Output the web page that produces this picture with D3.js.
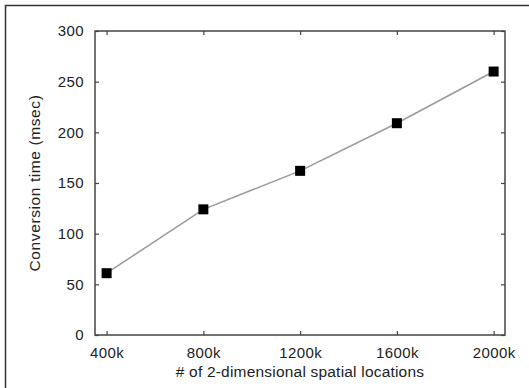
<!DOCTYPE html>
<html>
<head>
<meta charset="utf-8">
<script src="https://cdn.jsdelivr.net/npm/d3@7"></script>
<style>
  body { margin: 0; background: #fff; }
  text { font-family: "Liberation Sans", Arial, sans-serif; fill: #222; }
</style>
</head>
<body>
<div id="chart"></div>
<script>
// data
const locations = [400, 800, 1200, 1600, 2000]   // thousands of 2-D locations
const convTime = [61, 124, 162, 209, 260]        // msec
const yTicks = [0, 50, 100, 150, 200, 250, 300]

const W = 529, H = 388
const MARGIN = { TOP: 31, BOTTOM: 53, LEFT: 95, RIGHT: 24 }
const WIDTH = W - MARGIN.LEFT - MARGIN.RIGHT
const HEIGHT = H - MARGIN.TOP - MARGIN.BOTTOM

const svg = d3.select("#chart").append("svg")
    .attr("width", W)
    .attr("height", H)

// outer frame (only top and left edges visible)
svg.append("path")
    .attr("d", `M5.5,${H} V5.5 H${W}`)
    .attr("fill", "none")
    .attr("stroke", "#333")
    .attr("stroke-width", 1.5)

const g = svg.append("g")
    .attr("transform", `translate(${MARGIN.LEFT}, ${MARGIN.TOP})`)

const x = d3.scaleLinear()
    .domain([352, 2047])
    .range([0, WIDTH])

const y = d3.scaleLinear()
    .domain([0, 300])
    .range([HEIGHT, 0])

// ticks on all four sides, pointing inward
const axisStyle = sel => {
    sel.select(".domain").remove()
    sel.selectAll(".tick line").attr("stroke", "#444").attr("stroke-width", 1.2)
    sel.selectAll(".tick text")
        .style("font-size", "15px")
        .style("letter-spacing", "0.4px")
        .attr("fill", "#222")
}

g.append("g")
    .attr("transform", `translate(0, ${HEIGHT})`)
    .call(d3.axisBottom(x).tickValues(locations).tickFormat(d => d + "k").tickSizeInner(-4).tickPadding(12))
    .call(axisStyle)

g.append("g")
    .call(d3.axisTop(x).tickValues(locations).tickSizeInner(-4).tickFormat(""))
    .call(axisStyle)

g.append("g")
    .call(d3.axisLeft(y).tickValues(yTicks).tickSizeInner(-4).tickPadding(11))
    .call(axisStyle)

g.append("g")
    .attr("transform", `translate(${WIDTH}, 0)`)
    .call(d3.axisRight(y).tickValues(yTicks).tickSizeInner(-4).tickFormat(""))
    .call(axisStyle)

// plot border
g.append("rect")
    .attr("width", WIDTH)
    .attr("height", HEIGHT)
    .attr("fill", "none")
    .attr("stroke", "#444")
    .attr("stroke-width", 1.5)

const pts = locations.map((d, i) => ({ loc: d, t: convTime[i] }))

g.append("path")
    .datum(pts)
    .attr("fill", "none")
    .attr("stroke", "#999")
    .attr("stroke-width", 1.5)
    .attr("d", d3.line().x(d => x(d.loc)).y(d => y(d.t)))

g.selectAll("rect.pt")
    .data(pts)
    .enter().append("rect")
        .attr("class", "pt")
        .attr("x", d => x(d.loc) - 5)
        .attr("y", d => y(d.t) - 5)
        .attr("width", 10)
        .attr("height", 10)
        .attr("fill", "#000")

// axis titles
svg.append("text")
    .attr("x", MARGIN.LEFT + WIDTH / 2)
    .attr("y", 377)
    .attr("text-anchor", "middle")
    .style("font-size", "15.5px")
    .style("letter-spacing", "0.2px")
    .text("# of 2-dimensional spatial locations")

svg.append("text")
    .attr("transform", `translate(40, ${MARGIN.TOP + HEIGHT / 2}) rotate(-90)`)
    .attr("text-anchor", "middle")
    .style("font-size", "15.5px")
    .style("letter-spacing", "0.6px")
    .text("Conversion time (msec)")
</script>
</body>
</html>
